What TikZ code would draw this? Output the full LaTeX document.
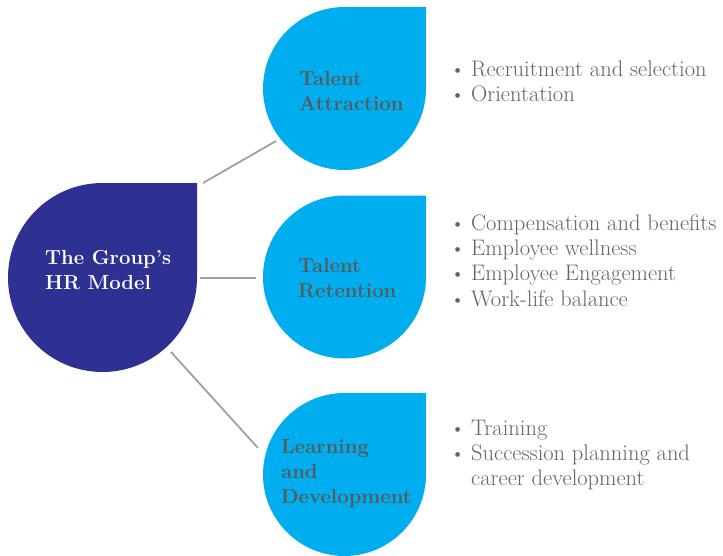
\documentclass[tikz,border=0pt]{standalone}
\usepackage{fontspec}
\usepackage{xcolor}
\usetikzlibrary{positioning}

\definecolor{hrblue}{HTML}{2E3192}
\definecolor{dropblue}{HTML}{00AEEF}
\definecolor{labelgray}{HTML}{595959}
\definecolor{listgray}{HTML}{646464}
\definecolor{linkgray}{HTML}{A0A0A0}

\newcommand{\itemdot}{\makebox[21pt][l]{\fontsize{21}{25}\selectfont\textbullet}}

\begin{document}
\begin{tikzpicture}[x=1pt, y=1pt,
  link/.style={linkgray, line width=1.8pt},
  title/.style={font=\fontsize{20.3}{25}\selectfont\bfseries, align=left, inner sep=0pt, anchor=west},
  items/.style={font=\fontsize{22.5}{25.3}\selectfont, text=listgray, inner sep=0pt, anchor=west}]
\useasboundingbox (0,0) rectangle (723,-555);

% Drops
\fill[hrblue] (197,-183) -- (102.5,-183) arc[start angle=90, end angle=360, radius=94.5] -- cycle;
\fill[dropblue] (426,-7) -- (344.5,-7) arc[start angle=90, end angle=360, radius=81.5] -- cycle;
\fill[dropblue] (426,-195.5) -- (344.5,-195.5) arc[start angle=90, end angle=360, radius=81.5] -- cycle;
\fill[dropblue] (426,-393) -- (344.5,-393) arc[start angle=90, end angle=360, radius=81.5] -- cycle;

% Labels in the drops
\node[title, text=white] (hr) at (45,-270) {The Group’s\\HR Model};
\node[title, text=labelgray] (attract) at (299,-91.5) {Talent\\Attraction};
\node[title, text=labelgray] (retain) at (298,-278) {Talent\\Retention};
\node[title, text=labelgray] (develop) at (281,-473) {Learning\\and\\Development};

% Connectors
\coordinate (hr-top) at (203,-183);
\coordinate (hr-mid) at (200,-278);
\coordinate (hr-low) at (171,-352);
\coordinate (attract-in) at (276,-141);
\coordinate (retain-in) at (256,-278);
\coordinate (develop-in) at (258,-448);
\draw[link] (hr-top) -- (attract-in);
\draw[link] (hr-mid) -- (retain-in);
\draw[link] (hr-low) -- (develop-in);

% Lists
\node[items] (attract-list) at (450,-84) {\begin{tabular}{@{}l@{}l@{}}
\itemdot & Recruitment and selection\\
\itemdot & Orientation
\end{tabular}};
\node[items] (retain-list) at (450,-263) {\begin{tabular}{@{}l@{}l@{}}
\itemdot & Compensation and benefits\\
\itemdot & Employee wellness\\
\itemdot & Employee Engagement\\
\itemdot & Work-life balance
\end{tabular}};
\node[items] (develop-list) at (450,-455.5) {\begin{tabular}{@{}l@{}l@{}}
\itemdot & Training\\
\itemdot & Succession planning and\\
 & career development
\end{tabular}};
\end{tikzpicture}
\end{document}
